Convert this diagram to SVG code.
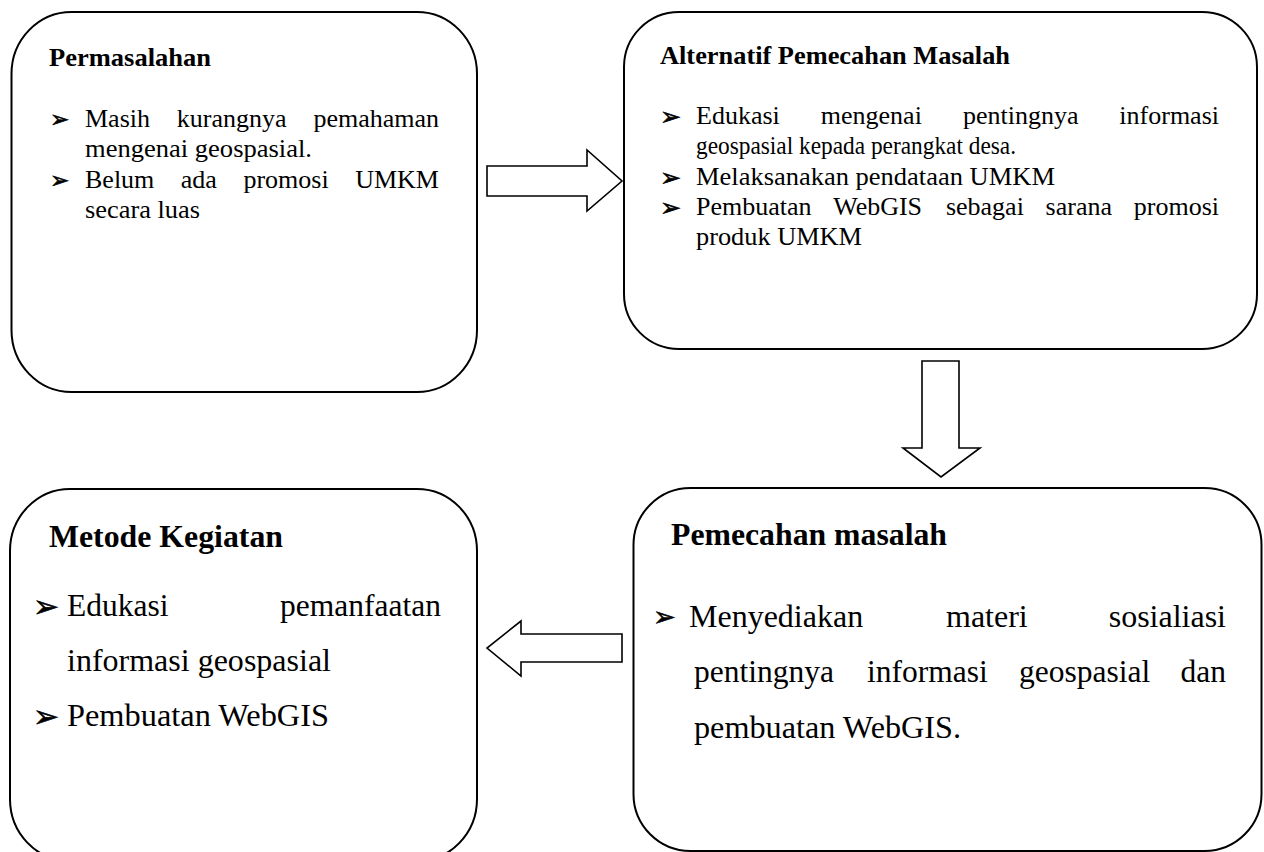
<svg xmlns="http://www.w3.org/2000/svg" width="1264" height="852" viewBox="0 0 1264 852">
<style>
.box{fill:#fff;stroke:#000;stroke-width:2}
.arr{fill:#fff;stroke:#000;stroke-width:1.6;stroke-linejoin:miter}
.t{font-family:"Liberation Serif","Times New Roman",serif;fill:#000}
.b{font-weight:bold}
.bl{font-family:"DejaVu Sans",sans-serif;fill:#000;stroke:#000;stroke-width:0.6}
.s1{font-size:26px}
.s3{font-size:31.5px}
.s4{font-size:32px}
.k1{font-size:23px}
.k2{font-size:25px}
.k3{font-size:31px}
.k4{font-size:27px}
</style>
<rect width="1264" height="852" fill="#fff"/>
<g id="connectors">
<polygon class="arr" points="487,166 587,166 587,150 622,181 587,211 587,196 487,196"/>
<polygon class="arr" points="922,361 959,361 959,448 980,448 941,477 903,448 922,448"/>
<polygon class="arr" points="622,634 521,634 521,621 487,648 521,676 521,662 622,662"/>
</g>
<g id="permasalahan">
<rect class="box" x="11.5" y="12" width="465.5" height="380" rx="60" ry="62"/>
<text class="t b s1" x="49" y="66" textLength="162" lengthAdjust="spacingAndGlyphs">Permasalahan</text>
<text class="bl k1" x="50" y="127">➢</text>
<text class="t s1" y="127"><tspan x="85">Masih</tspan><tspan x="176.8">kurangnya</tspan><tspan x="439" text-anchor="end">pemahaman</tspan></text>
<text class="t s1" x="85" y="157" textLength="227" lengthAdjust="spacingAndGlyphs">mengenai geospasial.</text>
<text class="bl k1" x="50" y="188">➢</text>
<text class="t s1" y="188"><tspan x="85">Belum</tspan><tspan x="180.8">ada</tspan><tspan x="243.4">promosi</tspan><tspan x="439" text-anchor="end">UMKM</tspan></text>
<text class="t s1" x="85" y="218" textLength="115" lengthAdjust="spacingAndGlyphs">secara luas</text>
</g>
<g id="alternatif">
<rect class="box" x="624" y="12" width="633" height="337" rx="55" ry="55"/>
<text class="t b s1" x="660" y="64" textLength="350" lengthAdjust="spacingAndGlyphs">Alternatif Pemecahan Masalah</text>
<text class="bl k2" x="660" y="125">➢</text>
<text class="t s1" y="124"><tspan x="696">Edukasi</tspan><tspan x="820.8">mengenai</tspan><tspan x="962.9">pentingnya</tspan><tspan x="1219" text-anchor="end">informasi</tspan></text>
<text class="t s1" x="696" y="154" textLength="320" lengthAdjust="spacingAndGlyphs">geospasial kepada perangkat desa.</text>
<text class="bl k2" x="660" y="186">➢</text>
<text class="t s1" x="696" y="185" textLength="359" lengthAdjust="spacingAndGlyphs">Melaksanakan pendataan UMKM</text>
<text class="bl k2" x="660" y="216">➢</text>
<text class="t s1" y="215"><tspan x="696">Pembuatan</tspan><tspan x="833.2">WebGIS</tspan><tspan x="945.9">sebagai</tspan><tspan x="1045.6">sarana</tspan><tspan x="1219" text-anchor="end">promosi</tspan></text>
<text class="t s1" x="696" y="245" textLength="166" lengthAdjust="spacingAndGlyphs">produk UMKM</text>
</g>
<g id="metode">
<rect class="box" x="10" y="489" width="467" height="372" rx="60" ry="62"/>
<text class="t b s3" x="49" y="547" textLength="234" lengthAdjust="spacingAndGlyphs">Metode Kegiatan</text>
<text class="bl k3" x="33" y="617">➢</text>
<text class="t s3" y="616"><tspan x="67">Edukasi</tspan><tspan x="441" text-anchor="end">pemanfaatan</tspan></text>
<text class="t s3" x="67" y="671" textLength="264" lengthAdjust="spacingAndGlyphs">informasi geospasial</text>
<text class="bl k3" x="33" y="727">➢</text>
<text class="t s3" x="67" y="726" textLength="262" lengthAdjust="spacingAndGlyphs">Pembuatan WebGIS</text>
</g>
<g id="pemecahan">
<rect class="box" x="633.5" y="488" width="628" height="363" rx="57" ry="57"/>
<text class="t b s3" x="671" y="545" textLength="276" lengthAdjust="spacingAndGlyphs">Pemecahan masalah</text>
<text class="bl k4" x="653" y="626">➢</text>
<text class="t s4" y="627"><tspan x="689">Menyediakan</tspan><tspan x="946">materi</tspan><tspan x="1226" text-anchor="end">sosialiasi</tspan></text>
<text class="t s3" y="682"><tspan x="694">pentingnya</tspan><tspan x="867">informasi</tspan><tspan x="1019">geospasial</tspan><tspan x="1226" text-anchor="end">dan</tspan></text>
<text class="t s3" x="694" y="738" textLength="267" lengthAdjust="spacingAndGlyphs">pembuatan WebGIS.</text>
</g>
</svg>
